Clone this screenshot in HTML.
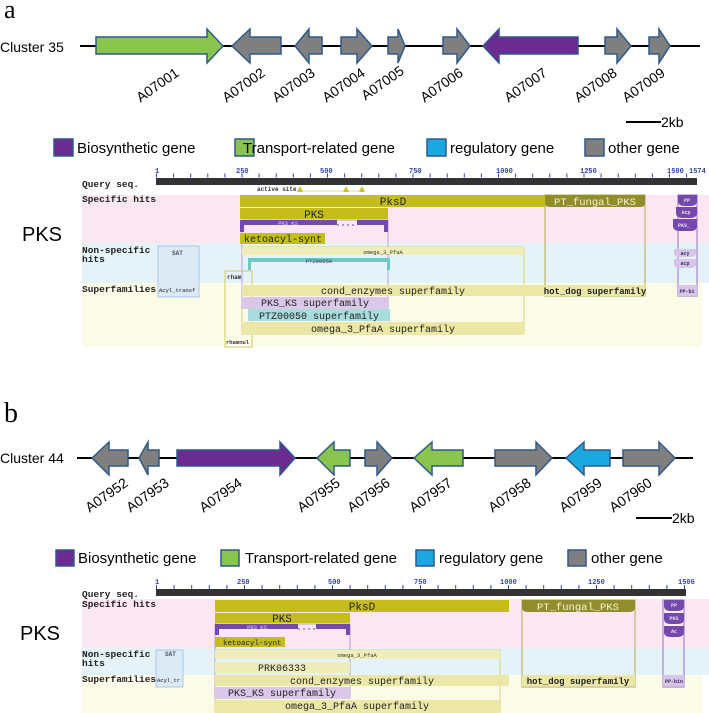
<!DOCTYPE html>
<html><head><meta charset="utf-8"><style>
html,body{margin:0;padding:0;background:#fff;}
svg{display:block}
.s{font-family:"Liberation Sans",sans-serif;}
.m{font-family:"Liberation Mono",monospace;font-weight:bold;}
.n{font-family:"Liberation Mono",monospace;}
</style></head><body>
<svg width="709" height="713" viewBox="0 0 709 713" xmlns="http://www.w3.org/2000/svg">
<!-- ===== Panel a ===== -->
<text x="4" y="18" font-family="Liberation Serif,serif" font-size="26">a</text>
<text class="s" x="0" y="52" font-size="14">Cluster 35</text>
<line x1="80" y1="46" x2="700" y2="46" stroke="#000" stroke-width="2"/>
<g stroke="#2f5a8a" stroke-width="1.5">
<polygon fill="#8bc34f" points="96,37 207,37 207,29 223,46 207,63 207,54 96,54"/>
<polygon fill="#7f7f7f" points="281,37 250,37 250,29 232,46 250,63 250,54 281,54"/>
<polygon fill="#7f7f7f" points="322,37 309,37 309,29 295,46 309,63 309,54 322,54"/>
<polygon fill="#7f7f7f" points="341,37 357,37 357,29 372,46 357,63 357,54 341,54"/>
<polygon fill="#7f7f7f" points="388,37 398,37 398,29 405,46 398,63 398,54 388,54"/>
<polygon fill="#7f7f7f" points="443,37 457,37 457,29 470,46 457,63 457,54 443,54"/>
<polygon fill="#6a2c91" points="578,37 499,37 499,29 483,46 499,63 499,54 578,54"/>
<polygon fill="#7f7f7f" points="605,37 617,37 617,29 631,46 617,63 617,54 605,54"/>
<polygon fill="#7f7f7f" points="649,37 659,37 659,29 670,46 659,63 659,54 649,54"/>
</g>
<g class="s" font-size="14" text-anchor="end">
<text transform="translate(180,75) rotate(-35)">A07001</text>
<text transform="translate(266,75) rotate(-35)">A07002</text>
<text transform="translate(316,75) rotate(-35)">A07003</text>
<text transform="translate(366,75) rotate(-35)">A07004</text>
<text transform="translate(405,73) rotate(-35)">A07005</text>
<text transform="translate(464,75) rotate(-35)">A07006</text>
<text transform="translate(548,75) rotate(-35)">A07007</text>
<text transform="translate(618,75) rotate(-35)">A07008</text>
<text transform="translate(666,75) rotate(-35)">A07009</text>
</g>
<line x1="626" y1="122" x2="661" y2="122" stroke="#000" stroke-width="2"/>
<text class="s" x="661" y="127" font-size="14">2kb</text>
<g stroke="#2f5a8a" stroke-width="1.5">
<rect x="54" y="139" width="19" height="17" fill="#6a2c91"/>
<rect x="235" y="139" width="19" height="17" fill="#8bc34f"/>
<rect x="427" y="139" width="19" height="17" fill="#1ba8e0"/>
<rect x="585" y="139" width="19" height="17" fill="#7f7f7f"/>
</g>
<g class="s" font-size="15">
<text x="77" y="153">Biosynthetic gene</text>
<text x="243" y="153">Transport-related gene</text>
<text x="450" y="153">regulatory gene</text>
<text x="608" y="153">other gene</text>
</g>

<!-- PKS a -->
<rect x="82" y="195" width="627" height="48" fill="#fbe7f1"/>
<rect x="82" y="243" width="627" height="40" fill="#e5f3f8"/>
<rect x="82" y="283" width="620" height="64" fill="#fbfbe8"/>
<g class="m" font-size="7" fill="#3344aa">
<text x="155" y="173">1</text><text x="236" y="173">250</text><text x="320" y="173">500</text><text x="409" y="173">750</text><text x="496" y="173">1000</text><text x="580" y="173">1250</text><text x="667" y="173">1500</text><text x="689" y="173">1574</text>
</g>
<line x1="156" y1="175.5" x2="700" y2="175.5" stroke="#3344aa" stroke-width="4" stroke-dasharray="1 16.1"/>
<rect x="156" y="178" width="541" height="7" fill="#333"/>
<g class="m" font-size="9.5" fill="#222">
<text x="82" y="187">Query seq.</text>
<text x="82" y="202">Specific hits</text>
<text x="82" y="253">Non-specific</text>
<text x="82" y="262">hits</text>
<text x="82" y="292">Superfamilies</text>
</g>
<text class="s" x="22" y="241" font-size="20">PKS</text>
<text class="m" x="257" y="191" font-size="6" fill="#333">active site</text>
<line x1="300" y1="191" x2="362" y2="191" stroke="#dfe08a" stroke-width="1"/>
<g fill="#c8c21c"><polygon points="297,192 300,186 303,192"/><polygon points="343,192 346,186 349,192"/><polygon points="359,192 362,186 365,192"/></g>
<rect x="545" y="195" width="100" height="101" fill="none" stroke="#b4ad4a"/>
<rect x="242" y="247" width="282" height="87" fill="none" stroke="#d8d47a"/>
<rect x="242" y="220" width="146" height="88" fill="none" stroke="#b9a0d8"/>
<rect x="225" y="271" width="27" height="76" fill="none" stroke="#d0cc60"/>
<rect x="158" y="246" width="41" height="51" fill="#dbeaf5" stroke="#a8c8e8"/>
<rect x="240" y="195" width="305" height="12" fill="#c5bd1c"/>
<text class="n" x="393" y="205" font-size="11" text-anchor="middle" fill="#222">PksD</text>
<path d="M545,195 H645 V203 Q645,207 640,207 H550 Q545,207 545,203 Z" fill="#928d2c"/>
<text class="n" x="595" y="205" font-size="10.5" text-anchor="middle" fill="#f4f4d0">PT_fungal_PKS</text>
<rect x="240" y="208" width="148" height="11" fill="#c5bd1c"/>
<text class="n" x="314" y="218" font-size="11" text-anchor="middle" fill="#222">PKS</text>
<path d="M240,220 H337 V225 H357 V220 H388 V232 H384 V225 H244 V232 H240 Z" fill="#7448ac"/>
<line x1="337" y1="225" x2="357" y2="225" stroke="#7448ac" stroke-dasharray="2 3"/>
<text class="n" x="288" y="225" font-size="5.5" fill="#e0d0f0" text-anchor="middle">PKS_KS</text>
<rect x="240" y="233" width="85" height="11" fill="#c5bd1c"/>
<text class="n" x="244" y="242" font-size="10" fill="#222">ketoacyl-synt</text>
<rect x="242" y="247" width="282" height="8" fill="#efedbc"/>
<text class="n" x="383" y="254" font-size="5.5" fill="#333" text-anchor="middle">omega_3_PfaA</text>
<path d="M248,258 H390 V270 H387 V262 H251 V270 H248 Z" fill="#6ec8c6"/>
<text class="n" x="319" y="263" font-size="5.5" fill="#335" text-anchor="middle">PTZ00050</text>
<rect x="242" y="285" width="303" height="11" fill="#ebe7a6"/>
<text class="n" x="393" y="294" font-size="10" fill="#222" text-anchor="middle">cond_enzymes superfamily</text>
<rect x="545" y="285" width="100" height="11" fill="#ebe7a6"/>
<text class="m" x="595" y="294" font-size="9" fill="#222" text-anchor="middle">hot_dog superfamily</text>
<rect x="242" y="297" width="146" height="11" fill="#dcc6ea"/>
<text class="n" x="315" y="306" font-size="10" fill="#222" text-anchor="middle">PKS_KS superfamily</text>
<rect x="248" y="309" width="142" height="12" fill="#a9dcdc"/>
<text class="n" x="319" y="319" font-size="10" fill="#222" text-anchor="middle">PTZ00050 superfamily</text>
<rect x="242" y="322" width="282" height="12" fill="#ebe7a6"/>
<text class="n" x="383" y="332" font-size="10" fill="#222" text-anchor="middle">omega_3_PfaA superfamily</text>
<text class="m" x="227" y="279" font-size="6" fill="#333">rham</text>
<text class="m" x="226" y="344" font-size="5.5" fill="#333">rhamnul</text>
<text class="m" x="172" y="255" font-size="6" fill="#556">SAT</text>
<text class="m" x="159" y="292" font-size="5.5" fill="#556">Acyl_transf</text>
<rect x="678" y="195" width="19" height="101" fill="none" stroke="#9a70c8"/>
<g fill="#7448ac">
<path d="M678,195 H697 V201 Q697,206 690,206 H685 Q678,206 678,201 Z"/>
<path d="M676,207 H697 V213 Q697,218 690,218 H683 Q676,218 676,213 Z"/>
<path d="M673,219 H697 V226 Q697,231 690,231 H680 Q673,231 673,226 Z"/>
</g>
<g fill="#d8c4ea">
<path d="M674,249 H696 V253 Q696,257 690,257 H680 Q674,257 674,253 Z"/>
<path d="M674,259 H696 V264 Q696,268 690,268 H680 Q674,268 674,264 Z"/>
<rect x="678" y="285" width="19" height="11"/>
</g>
<g class="m" font-size="5" text-anchor="middle">
<text x="687" y="202" fill="#e8dcf5">PP</text><text x="686" y="214" fill="#e8dcf5">Acp</text><text x="684" y="227" fill="#e8dcf5">PKS_</text>
<text x="685" y="255" fill="#335">acy</text><text x="685" y="265" fill="#335">acp</text><text x="687" y="293" fill="#335">PP-bi</text>
</g>

<!-- ===== Panel b ===== -->
<text x="4" y="422" font-family="Liberation Serif,serif" font-size="28">b</text>
<text class="s" x="0" y="463" font-size="14">Cluster 44</text>
<line x1="77" y1="458" x2="693" y2="458" stroke="#000" stroke-width="2"/>
<g stroke="#2f5a8a" stroke-width="1.5">
<polygon fill="#7f7f7f" points="128,450 109,450 109,442 92,458 109,475 109,466 128,466"/>
<polygon fill="#7f7f7f" points="159,450 148,450 148,442 139,458 148,475 148,466 159,466"/>
<polygon fill="#6a2c91" points="177,450 280,450 280,442 295,458 280,475 280,466 177,466"/>
<polygon fill="#8bc34f" points="350,450 334,450 334,442 317,458 334,475 334,466 350,466"/>
<polygon fill="#7f7f7f" points="365,450 377,450 377,442 392,458 377,475 377,466 365,466"/>
<polygon fill="#8bc34f" points="463,450 432,450 432,442 414,458 432,475 432,466 463,466"/>
<polygon fill="#7f7f7f" points="495,450 536,450 536,442 552,458 536,475 536,466 495,466"/>
<polygon fill="#1ba8e0" points="610,450 584,450 584,442 566,458 584,475 584,466 610,466"/>
<polygon fill="#7f7f7f" points="623,450 659,450 659,442 675,458 659,475 659,466 623,466"/>
</g>
<g class="s" font-size="14" text-anchor="end">
<text transform="translate(129,485) rotate(-35)">A07952</text>
<text transform="translate(170,485) rotate(-35)">A07953</text>
<text transform="translate(243,485) rotate(-35)">A07954</text>
<text transform="translate(341,485) rotate(-35)">A07955</text>
<text transform="translate(391,485) rotate(-35)">A07956</text>
<text transform="translate(453,485) rotate(-35)">A07957</text>
<text transform="translate(532,485) rotate(-35)">A07958</text>
<text transform="translate(603,485) rotate(-35)">A07959</text>
<text transform="translate(653,485) rotate(-35)">A07960</text>
</g>
<line x1="636" y1="518" x2="672" y2="518" stroke="#000" stroke-width="2"/>
<text class="s" x="672" y="523" font-size="14">2kb</text>
<g stroke="#2f5a8a" stroke-width="1.5">
<rect x="56" y="550" width="18" height="16" fill="#6a2c91"/>
<rect x="221" y="550" width="18" height="16" fill="#8bc34f"/>
<rect x="416" y="550" width="18" height="16" fill="#1ba8e0"/>
<rect x="568" y="550" width="18" height="16" fill="#7f7f7f"/>
</g>
<g class="s" font-size="15">
<text x="78" y="563">Biosynthetic gene</text>
<text x="245" y="563">Transport-related gene</text>
<text x="439" y="563">regulatory gene</text>
<text x="591" y="563">other gene</text>
</g>

<!-- PKS b -->
<rect x="82" y="599" width="627" height="49" fill="#fbe7f1"/>
<rect x="82" y="648" width="627" height="27" fill="#e5f3f8"/>
<rect x="82" y="675" width="620" height="38" fill="#fbfbe8"/>
<g class="m" font-size="7" fill="#3344aa">
<text x="155" y="584">1</text><text x="237" y="584">250</text><text x="328" y="584">500</text><text x="414" y="584">750</text><text x="500" y="584">1000</text><text x="588" y="584">1250</text><text x="678" y="584">1506</text>
</g>
<line x1="156" y1="587" x2="686" y2="587" stroke="#3344aa" stroke-width="4" stroke-dasharray="1 16.6"/>
<rect x="156" y="589" width="530" height="7" fill="#333"/>
<g class="m" font-size="9.5" fill="#222">
<text x="82" y="597">Query seq.</text>
<text x="82" y="607">Specific hits</text>
<text x="82" y="657">Non-specific</text>
<text x="82" y="666">hits</text>
<text x="82" y="682">Superfamilies</text>
</g>
<text class="s" x="20" y="640" font-size="20">PKS</text>
<rect x="522" y="600" width="113" height="87" fill="none" stroke="#b4ad4a"/>
<rect x="215" y="650" width="285" height="62" fill="none" stroke="#d8d47a"/>
<rect x="215" y="624" width="135" height="74" fill="none" stroke="#b9a0d8"/>
<rect x="156" y="650" width="27" height="37" fill="#dbeaf5" stroke="#a8c8e8"/>
<rect x="215" y="600" width="294" height="12" fill="#c5bd1c"/>
<text class="n" x="362" y="610" font-size="11" text-anchor="middle" fill="#222">PksD</text>
<path d="M522,600 H635 V607 Q635,612 629,612 H528 Q522,612 522,607 Z" fill="#928d2c"/>
<text class="n" x="578" y="610" font-size="10.5" text-anchor="middle" fill="#f4f4d0">PT_fungal_PKS</text>
<rect x="215" y="613" width="135" height="10" fill="#c5bd1c"/>
<text class="n" x="282" y="622" font-size="11" text-anchor="middle" fill="#222">PKS</text>
<path d="M215,624 H298 V629 H316 V624 H350 V635 H346 V629 H219 V635 H215 Z" fill="#7448ac"/>
<line x1="298" y1="629" x2="316" y2="629" stroke="#7448ac" stroke-dasharray="2 3"/>
<text class="n" x="257" y="629" font-size="5.5" fill="#e0d0f0" text-anchor="middle">PKS_KS</text>
<rect x="215" y="637" width="70" height="10" fill="#c5bd1c"/>
<text class="n" x="223" y="645" font-size="7.5" fill="#222">ketoacyl-synt</text>
<rect x="215" y="650" width="285" height="9" fill="#efedbc"/>
<text class="n" x="357" y="657" font-size="5.5" fill="#333" text-anchor="middle">omega_3_PfaA</text>
<rect x="215" y="662" width="135" height="11" fill="#efedbc"/>
<text class="n" x="282" y="671" font-size="10" fill="#222" text-anchor="middle">PRK06333</text>
<rect x="215" y="675" width="294" height="11" fill="#ebe7a6"/>
<text class="n" x="362" y="684" font-size="10" fill="#222" text-anchor="middle">cond_enzymes superfamily</text>
<rect x="522" y="675" width="113" height="11" fill="#ebe7a6"/>
<text class="m" x="578" y="684" font-size="9" fill="#222" text-anchor="middle">hot_dog superfamily</text>
<rect x="215" y="687" width="135" height="11" fill="#dcc6ea"/>
<text class="n" x="282" y="696" font-size="10" fill="#222" text-anchor="middle">PKS_KS superfamily</text>
<rect x="215" y="700" width="285" height="12" fill="#ebe7a6"/>
<text class="n" x="357" y="709" font-size="10" fill="#222" text-anchor="middle">omega_3_PfaA superfamily</text>
<text class="m" x="165" y="656" font-size="6" fill="#556">SAT</text>
<text class="m" x="157" y="682" font-size="5.5" fill="#556">Acyl_tr</text>
<rect x="663" y="600" width="21" height="87" fill="none" stroke="#9a70c8"/>
<g fill="#7448ac">
<path d="M664,600 H684 V606 Q684,611 677,611 H671 Q664,611 664,606 Z"/>
<path d="M664,613 H684 V619 Q684,624 677,624 H671 Q664,624 664,619 Z"/>
<path d="M664,626 H684 V632 Q684,637 677,637 H671 Q664,637 664,632 Z"/>
</g>
<rect x="663" y="675" width="21" height="11" fill="#d8c4ea"/>
<g class="m" font-size="5" text-anchor="middle">
<text x="674" y="607" fill="#e8dcf5">PP</text><text x="674" y="620" fill="#e8dcf5">PKS</text><text x="674" y="633" fill="#e8dcf5">Ac</text>
<text x="674" y="683" fill="#335">PP-bin</text>
</g>
</svg>
</body></html>
